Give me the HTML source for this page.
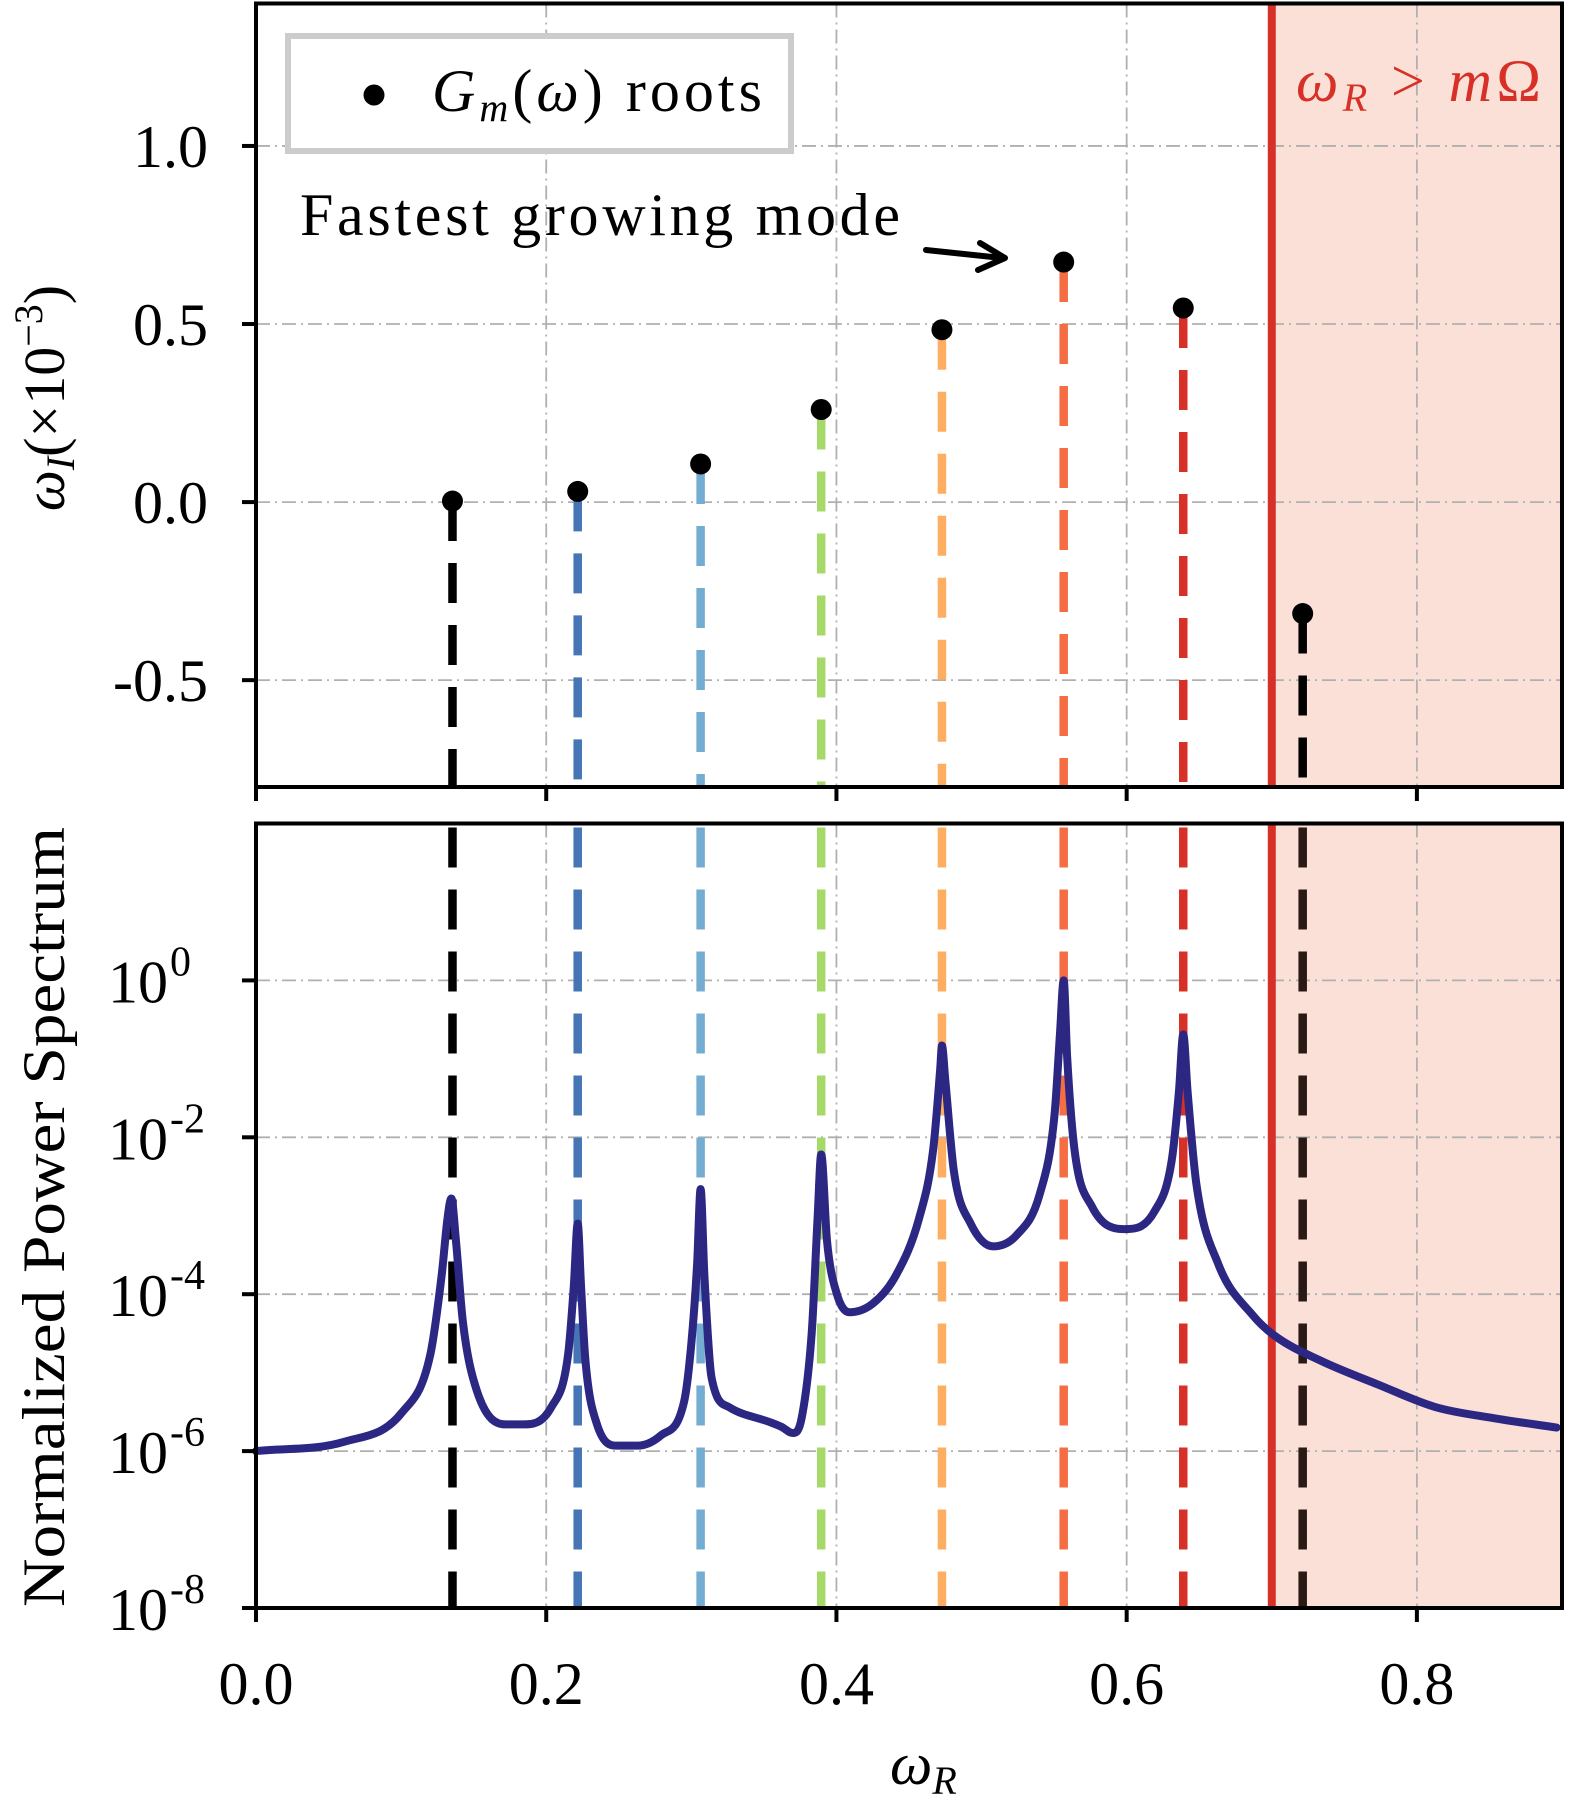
<!DOCTYPE html>
<html><head><meta charset="utf-8">
<style>
html,body{margin:0;padding:0;background:#fff;}
svg{display:block;font-family:"Liberation Serif","DejaVu Serif",serif;}
</style></head>
<body>
<svg id="chart" width="1569" height="1803" viewBox="0 0 1569 1803" xmlns="http://www.w3.org/2000/svg"></svg>
<script>
// ---- data ----
const rootOmegaR = [0.1354, 0.2217, 0.3064, 0.3895, 0.4727, 0.5566, 0.639, 0.7213];
const rootOmegaI = [0.003, 0.03, 0.107, 0.26, 0.484, 0.674, 0.545, -0.313];
const rootColors = ['#000000','#4575b4','#74add1','#a6d96a','#fdae61','#f46d43','#d73027','#000000'];
const specOmega = [0,0.061,0.1005,0.12,0.128,0.132,0.1346,0.1378,0.1425,0.152,0.172,0.184,0.2035,0.215,0.219,0.2217,0.224,0.227,0.235,0.249,0.263,0.279,0.295,0.3,0.304,0.3064,0.309,0.314,0.326,0.354,0.362,0.37,0.376,0.383,0.387,0.3895,0.3935,0.4,0.409,0.425,0.441,0.457,0.4667,0.4715,0.4727,0.475,0.481,0.4925,0.508,0.524,0.54,0.5503,0.554,0.5566,0.559,0.564,0.576,0.5994,0.619,0.631,0.636,0.639,0.642,0.648,0.663,0.687,0.702,0.734,0.773,0.813,0.853,0.8963];
const specLog = [-6.0,-5.88,-5.51,-4.78,-3.75,-3.03,-2.78,-3.32,-4.34,-5.22,-5.66,-5.66,-5.44,-4.78,-3.9,-3.10,-3.9,-4.84,-5.66,-5.93,-5.93,-5.8,-5.37,-4.63,-3.61,-2.66,-3.76,-5.07,-5.44,-5.63,-5.69,-5.77,-5.58,-4.48,-3.03,-2.22,-3.32,-3.98,-4.23,-4.12,-3.76,-3.03,-2.15,-1.13,-0.83,-1.27,-2.44,-3.1,-3.39,-3.25,-2.73,-1.71,-0.69,0.0,-0.98,-2.15,-2.88,-3.17,-2.95,-2.30,-1.42,-0.69,-1.42,-2.59,-3.61,-4.27,-4.53,-4.85,-5.15,-5.44,-5.58,-5.70];
const xTicks = [0, 0.2, 0.4, 0.6, 0.8];
const xTickLabels = ['0.0','0.2','0.4','0.6','0.8'];
const topYTicks = [1.0, 0.5, 0.0, -0.5];
const topYTickLabels = ['1.0','0.5','0.0','-0.5'];
const botYTicks = [0, -2, -4, -6, -8];
const botYTickLabels = ['0','-2','-4','-6','-8'];
const limitOmega = 0.7;

// ---- geometry ----
const L=256, R=1562, T1=3.5, B1=787, T2=823.5, B2=1608;
const X=v=>L+(v-0)/(0.9)*(R-L);
const Y1=v=>T1+(1.40-v)/(2.2)*(B1-T1);
const Y2=v=>T2+(2-v)/(10)*(B2-T2);
const NS='http://www.w3.org/2000/svg';
const svg=document.getElementById('chart');
function mk(tag,attrs,parent){const e=document.createElementNS(NS,tag);for(const k in attrs)e.setAttribute(k,attrs[k]);(parent||svg).appendChild(e);return e;}

// panels
[[T1,B1,'top-panel'],[T2,B2,'bottom-panel']].forEach(([t,b,nm])=>{
  const g=mk('g',{});
  
  
  const sh=mk('rect',{x:X(limitOmega),y:t,width:R-X(limitOmega),height:b-t,fill:'#fbe0d7'},g);
  
  
  xTicks.forEach(v=>{const l=mk('line',{x1:X(v),x2:X(v),y1:t,y2:b,stroke:'#b0b0b0','stroke-width':1.8,'stroke-dasharray':'14 5 2 5'},g);
    });
  const yt = nm==='top-panel'?topYTicks.map(Y1):botYTicks.map(Y2);
  yt.forEach(y=>{const l=mk('line',{x1:L,x2:R,y1:y,y2:y,stroke:'#b0b0b0','stroke-width':1.8,'stroke-dasharray':'14 5 2 5'},g);
    });
});

// stems
rootOmegaR.forEach((w,i)=>{
  const c = rootColors[i];
  const s1=mk('line',{x1:X(w),x2:X(w),y1:Y1(rootOmegaI[i]),y2:B1,stroke:c,'stroke-width':8.5,'stroke-dasharray':'40 22'});
  
  const s2=mk('line',{x1:X(w),x2:X(w),y1:T2,y2:B2,stroke:(i===7?'#2a1a14':c),'stroke-width':8.5,'stroke-dasharray':'40 22','stroke-dashoffset':-4});
  
});

// limit red line
[[T1,B1],[T2,B2]].forEach(([t,b])=>{
  const l=mk('line',{x1:X(limitOmega),x2:X(limitOmega),y1:t,y2:b,stroke:'#d73027','stroke-width':8});
  
});

// root dots
rootOmegaR.forEach((w,i)=>{
  const d=mk('circle',{cx:X(w),cy:Y1(rootOmegaI[i]),r:10.5,fill:'#000'});
  
});

// spectrum: monotone cubic interpolation in pixel space
(function(){
  const xs=specOmega.map(X), ys=specLog.map(Y2), n=xs.length;
  const d=[],m=new Array(n);
  for(let i=0;i<n-1;i++)d.push((ys[i+1]-ys[i])/(xs[i+1]-xs[i]));
  m[0]=d[0];m[n-1]=d[n-2];
  for(let i=1;i<n-1;i++){m[i]=(d[i-1]*d[i]<=0)?0:(d[i-1]+d[i])/2;}
  for(let i=0;i<n-1;i++){
    if(d[i]===0){m[i]=0;m[i+1]=0;continue;}
    const a=m[i]/d[i],b=m[i+1]/d[i],s=a*a+b*b;
    if(s>9){const t=3/Math.sqrt(s);m[i]=t*a*d[i];m[i+1]=t*b*d[i];}
  }
  let p='M'+xs[0].toFixed(1)+','+ys[0].toFixed(1);
  for(let i=0;i<n-1;i++){
    const h=xs[i+1]-xs[i];
    p+='C'+(xs[i]+h/3).toFixed(2)+','+(ys[i]+m[i]*h/3).toFixed(2)+' '+(xs[i+1]-h/3).toFixed(2)+','+(ys[i+1]-m[i+1]*h/3).toFixed(2)+' '+xs[i+1].toFixed(2)+','+ys[i+1].toFixed(2);
  }
  const sp=mk('path',{d:p,fill:'none',stroke:'#2b2783','stroke-width':8,'stroke-linejoin':'round','stroke-linecap':'round'});
  
})();

// frames & ticks
[[T1,B1],[T2,B2]].forEach(([t,b],pi)=>{
  const f=mk('rect',{x:L,y:t,width:R-L,height:b-t,fill:'none',stroke:'#000','stroke-width':4});
  
  xTicks.forEach(v=>{const k=mk('line',{x1:X(v),x2:X(v),y1:b,y2:b+14,stroke:'#000','stroke-width':4});
    });
});
topYTicks.forEach((v,i)=>{
  const k=mk('line',{x1:L-14,x2:L,y1:Y1(v),y2:Y1(v),stroke:'#000','stroke-width':4});
  
  const t=mk('text',{x:208,y:Y1(v)+21,'text-anchor':'end','font-size':60});
  t.textContent=topYTickLabels[i];
  
});
botYTicks.forEach((v,i)=>{
  const k=mk('line',{x1:L-14,x2:L,y1:Y2(v),y2:Y2(v),stroke:'#000','stroke-width':4});
  
  const t=mk('text',{x:168,y:Y2(v)+22,'text-anchor':'end','font-size':60});
  t.textContent='10';
  
  const e=mk('text',{x:170,y:Y2(v)-5,'text-anchor':'start','font-size':42});
  e.textContent=botYTickLabels[i];
  
});
xTicks.forEach((v,i)=>{
  const t=mk('text',{x:X(v),y:1704,'text-anchor':'middle','font-size':60});
  t.textContent=xTickLabels[i];
  
});
</script>

<script>
(function(){
const svg=document.getElementById('chart');
const add=(html)=>{svg.insertAdjacentHTML('beforeend',html);};
add(`<g>
<rect x="288" y="36" width="503" height="115" fill="#fff" stroke="#cccccc" stroke-width="6"/>
<circle cx="374" cy="95" r="10.5" fill="#000"/>
<text x="432" y="111" font-size="60" textLength="330" lengthAdjust="spacing"><tspan font-style="italic">G</tspan><tspan font-style="italic" font-size="40" dy="10">m</tspan><tspan dy="-10">(</tspan><tspan font-style="italic">ω</tspan><tspan>)  roots</tspan></text>
</g>`);
add(`<text x="300" y="235" font-size="60" textLength="600" lengthAdjust="spacing">Fastest growing mode</text>`);
add(`<g><line x1="926" y1="250" x2="1002" y2="258" stroke="#000" stroke-width="6" stroke-linecap="round"/><polyline points="980,243 1005,258 978,270" fill="none" stroke="#000" stroke-width="6" stroke-linecap="round" stroke-linejoin="round"/></g>`);
add(`<text x="1296" y="101" font-size="60" fill="#d73027" textLength="245" lengthAdjust="spacing"><tspan font-style="italic">ω</tspan><tspan font-style="italic" font-size="40" dy="10">R</tspan><tspan dy="-10"> &gt; </tspan><tspan font-style="italic">m</tspan>Ω</text>`);
add(`<text transform="translate(64,398) rotate(-90)" text-anchor="middle" font-size="58"><tspan font-style="italic">ω</tspan><tspan font-style="italic" font-size="40" dy="10">I</tspan><tspan dy="-10">(×10</tspan><tspan font-size="40" dy="-22">−3</tspan><tspan dy="22">)</tspan></text>`);
add(`<text transform="translate(64,1217) rotate(-90)" text-anchor="middle" font-size="60" textLength="780" lengthAdjust="spacingAndGlyphs">Normalized Power Spectrum</text>`);
add(`<text x="890" y="1784" font-size="60"><tspan font-style="italic">ω</tspan><tspan font-style="italic" font-size="40" dy="10">R</tspan></text>`);
})();
</script>
</body></html>
